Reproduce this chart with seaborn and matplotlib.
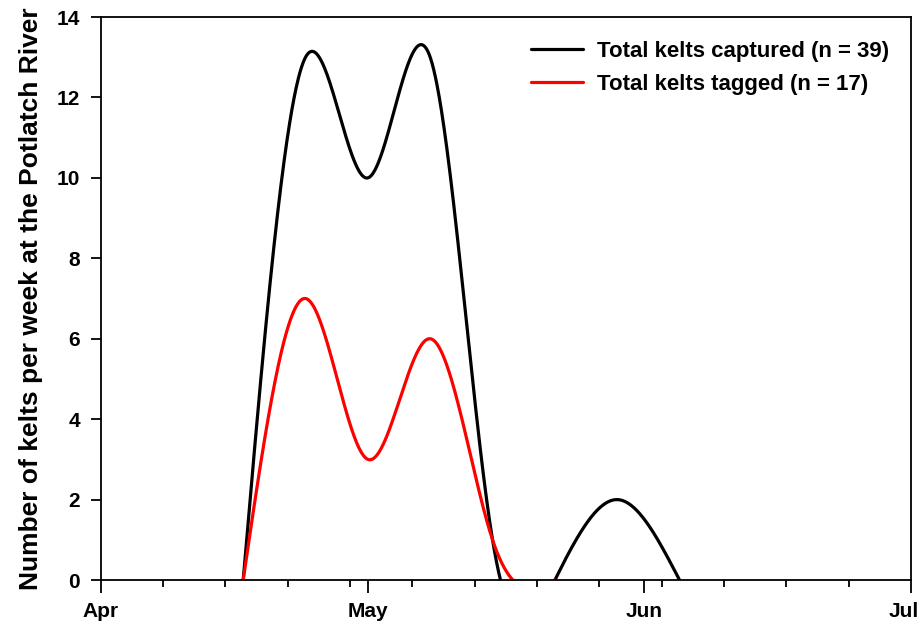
import numpy as np
import pandas as pd
import matplotlib
matplotlib.use("Agg")
import matplotlib.pyplot as plt
import matplotlib.dates as mdates
from matplotlib.transforms import ScaledTranslation
import seaborn as sns

# weekly counts
week_dates = ["2010-04-17", "2010-04-24", "2010-05-01", "2010-05-08",
              "2010-05-15", "2010-05-22", "2010-05-29", "2010-06-05"]
captured = [0, 13, 10, 13, 1, 0, 2, 0]
tagged = [0, 7, 3, 6, 1, 0]

label_captured = "Total kelts captured (n = 39)"
label_tagged = "Total kelts tagged (n = 17)"


def natural_spline(x, y, n=800):
    # natural cubic spline, like the smoothed curve in the original
    x = np.asarray(x, float)
    y = np.asarray(y, float)
    k = len(x)
    h = np.diff(x)
    A = np.zeros((k, k))
    b = np.zeros(k)
    A[0, 0] = A[-1, -1] = 1
    for i in range(1, k - 1):
        A[i, i - 1] = h[i - 1]
        A[i, i] = 2 * (h[i - 1] + h[i])
        A[i, i + 1] = h[i]
        b[i] = 6 * ((y[i + 1] - y[i]) / h[i] - (y[i] - y[i - 1]) / h[i - 1])
    M = np.linalg.solve(A, b)
    xs = np.linspace(x[0], x[-1], n)
    j = np.clip(np.searchsorted(x, xs) - 1, 0, k - 2)
    t0 = x[j + 1] - xs
    t1 = xs - x[j]
    hj = h[j]
    ys = (M[j] * t0**3 + M[j + 1] * t1**3) / (6 * hj) \
        + (y[j] / hj - M[j] * hj / 6) * t0 + (y[j + 1] / hj - M[j + 1] * hj / 6) * t1
    return xs, ys


def smooth_frame(dates, values):
    d = pd.to_datetime(dates)
    days = (d - d[0]).days.values
    xs, ys = natural_spline(days, values)
    return pd.DataFrame({"date": d[0] + pd.to_timedelta(xs, unit="D"), "count": ys})


cap_df = smooth_frame(week_dates, captured)
tag_df = smooth_frame(week_dates[:len(tagged)], tagged)

sns.set_style("ticks", {"text.color": "black", "axes.labelcolor": "black",
                        "xtick.color": "black", "ytick.color": "black",
                        "axes.edgecolor": "black"})
plt.rcParams["font.family"] = ["Liberation Sans", "DejaVu Sans"]
plt.rcParams["font.weight"] = "bold"

fig = plt.figure(figsize=(9.24, 6.28), dpi=100)
ax = fig.add_axes([0.109, 0.0764, 0.877, 0.8965])

sns.lineplot(data=cap_df, x="date", y="count", color="black", lw=2.3,
             label=label_captured, ax=ax, estimator=None, sort=False)
sns.lineplot(data=tag_df, x="date", y="count", color="#ff0000", lw=2.3,
             label=label_tagged, ax=ax, estimator=None, sort=False)

ax.set_xlim(pd.Timestamp("2010-04-01"), pd.Timestamp("2010-07-01"))
ax.set_ylim(0, 14)
ax.set_yticks(range(0, 15, 2))
ax.xaxis.set_major_locator(mdates.MonthLocator())
ax.xaxis.set_major_formatter(mdates.DateFormatter("%b"))
ax.xaxis.set_minor_locator(mdates.WeekdayLocator(byweekday=mdates.TH))
ax.tick_params(axis="x", which="major", length=9, width=1.3, labelsize=15, pad=7)
ax.tick_params(axis="x", which="minor", length=5, width=1.3)
ax.tick_params(axis="y", length=7, width=1.3, labelsize=15, pad=8)
for s in ax.spines.values():
    s.set_linewidth(1.3)

ax.set_xlabel("")
ax.set_ylabel("Number of kelts per week at the Potlatch River", fontsize=19,
              fontweight="bold", labelpad=10)

ax.legend(loc="upper right", bbox_to_anchor=(0.973, 0.958), frameon=False,
          borderpad=0, borderaxespad=0, handlelength=2.35, handletextpad=0.63,
          labelspacing=0.55, prop={"weight": "bold", "size": 16})

# last month label sits a little left so it stays inside the figure
fig.canvas.draw()
last = ax.get_xticklabels()[-1]
last.set_transform(last.get_transform() + ScaledTranslation(-0.07, 0, fig.dpi_scale_trans))

fig.savefig("out.png", dpi=100)
